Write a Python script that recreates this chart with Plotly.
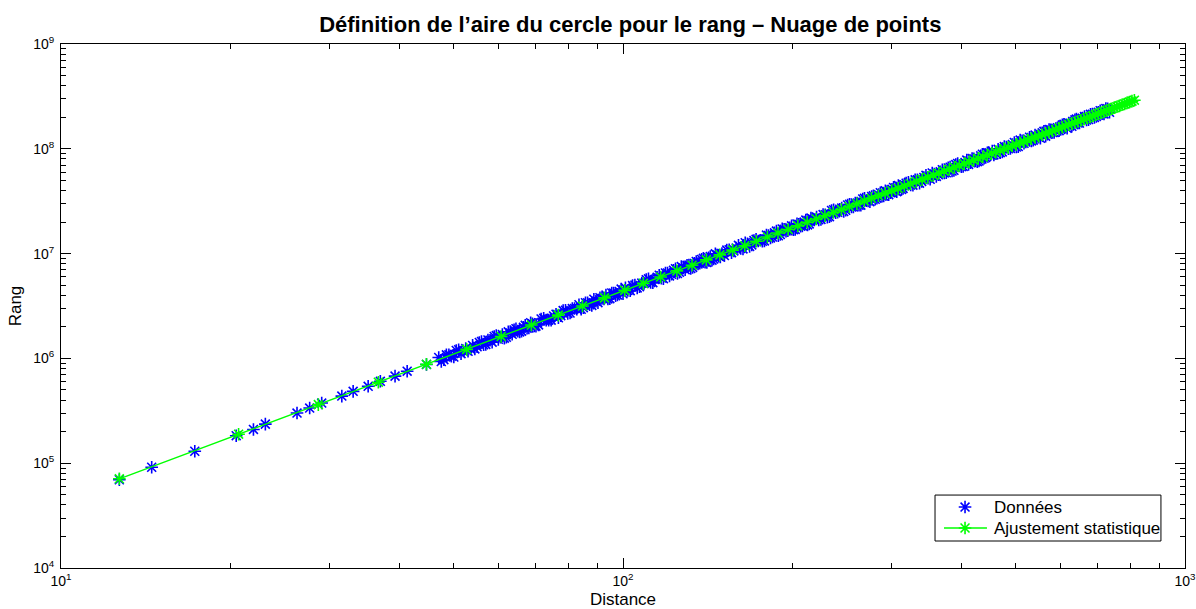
import plotly.graph_objects as go

# Measured points: distance and rank
distance = [
    12.7, 14.5, 17.3, 20.5, 22.0, 23.1, 26.3, 27.7, 29.1, 31.6, 33.1, 35.2, 37.0, 39.3, 41.3, 44.7,
    47, 48, 49, 50, 51, 52, 53, 54, 55, 56, 57, 58, 59, 60, 61, 62, 63, 64, 65, 66, 67, 68, 69, 70,
    71.5, 73, 74.5, 76, 77.5, 79, 80.5, 82, 83.5, 85, 86.5, 88, 89.5, 91, 92.5, 94, 95.5, 97, 98.5, 100,
    102, 104, 106, 108, 110, 112, 114, 116, 118, 120, 122, 124, 126, 128, 130, 132, 134, 136, 138, 140,
    142, 144, 146, 148, 150,
    153, 156, 159, 162, 165, 168, 171, 174, 177, 180, 183, 186, 189, 192, 195, 198, 201, 204, 207, 210,
    213, 216, 219,
    223, 227, 231, 235, 239, 243, 247, 251, 255, 259, 263, 267, 271, 275, 279, 283, 287, 291, 295, 299,
    303, 307, 311, 315, 319,
    325, 331, 337, 343, 349, 355, 361, 367, 373, 379, 385, 391, 397, 403, 409, 415, 421, 427, 433, 439,
    445, 451, 457,
    465, 473, 481, 489, 497, 505, 513, 521, 529, 537, 545, 553, 561, 569, 577, 585, 593, 601, 609, 617,
    625, 633, 641, 649, 657,
    668, 679, 690, 701, 712, 723, 734,
    47.5, 48.5, 49.5, 50.5, 51.5, 52.5, 53.5, 54.5, 55.5, 56.5, 57.5, 58.5, 59.5, 60.5, 61.5, 62.5,
    63.5, 64.5, 65.5, 66.5, 67.5, 68.5, 69.5,
    70.75, 72.25, 73.75, 75.25, 76.75, 78.25, 79.75, 81.25, 82.75, 84.25, 85.75, 87.25, 88.75, 90.25,
    91.75, 93.25, 94.75, 96.25, 97.75, 99.25,
    101, 103, 105, 107, 109, 111, 113, 115, 117, 119, 121, 123, 125, 127, 129, 131, 133, 135, 137, 139,
    141, 143, 145, 147, 149,
    151.5, 154.5, 157.5, 160.5, 163.5, 166.5, 169.5, 172.5, 175.5, 178.5, 181.5, 184.5, 187.5, 190.5,
    193.5, 196.5, 199.5, 202.5, 205.5, 208.5, 211.5, 214.5, 217.5,
    221, 225, 229, 233, 237, 241, 245, 249, 253, 257, 261, 265, 269, 273, 277, 281, 285, 289, 293, 297,
    301, 305, 309, 313, 317,
    322, 328, 334, 340, 346, 352, 358, 364, 370, 376, 382, 388, 394, 400, 406, 412, 418, 424, 430, 436,
    442, 448, 454, 461,
    469, 477, 485, 493, 501, 509, 517, 525, 533, 541, 549, 557, 565, 573, 581, 589, 597, 605, 613, 621,
    629, 637, 645, 653,
    662.5, 673.5, 684.5, 695.5, 706.5, 717.5, 728.5,
]
rang = [
    6.95e4, 9.15e4, 1.30e5, 1.83e5, 2.10e5, 2.36e5, 3.01e5, 3.36e5, 3.75e5, 4.37e5, 4.85e5, 5.42e5,
    6.05e5, 6.77e5, 7.55e5, 8.75e5,
    1.02e6, 9.73e5, 1.08e6, 1.03e6, 1.21e6, 1.18e6, 1.17e6, 1.33e6, 1.29e6, 1.45e6, 1.36e6, 1.49e6,
    1.62e6, 1.52e6, 1.69e6, 1.59e6, 1.75e6, 1.87e6, 1.82e6, 1.82e6, 2.07e6, 1.95e6, 2.14e6, 2.03e6,
    2.38e6, 2.32e6, 2.32e6, 2.64e6, 2.56e6, 2.88e6, 2.71e6, 2.99e6, 3.25e6, 3.05e6, 3.39e6, 3.20e6,
    3.52e6, 3.79e6, 3.69e6, 3.69e6, 4.21e6, 3.97e6, 4.35e6, 4.14e6,
    4.44e6, 4.95e6, 4.70e6, 5.23e6, 5.64e6, 5.30e6, 5.66e6, 6.22e6, 5.76e6, 6.53e6, 6.35e6, 7.17e6,
    6.64e6, 7.28e6, 7.73e6, 7.21e6, 8.06e6, 7.98e6, 8.80e6, 8.28e6, 9.14e6, 8.67e6, 9.94e6, 9.45e6,
    1.00e7,
    1.08e7, 1.02e7, 1.13e7, 1.12e7, 1.27e7, 1.17e7, 1.33e7, 1.32e7, 1.31e7, 1.50e7, 1.41e7, 1.58e7,
    1.48e7, 1.72e7, 1.64e7, 1.76e7, 1.69e7, 1.92e7, 1.83e7, 2.00e7, 1.88e7, 2.18e7, 2.09e7,
    2.10e7, 2.36e7, 2.23e7, 2.58e7, 2.46e7, 2.65e7, 2.52e7, 2.91e7, 2.78e7, 3.04e7, 2.89e7, 3.32e7,
    3.20e7, 3.13e7, 3.56e7, 3.38e7, 3.81e7, 3.54e7, 3.91e7, 3.82e7, 4.28e7, 3.90e7, 4.38e7, 4.19e7,
    4.70e7,
    4.51e7, 5.06e7, 4.70e7, 5.33e7, 5.25e7, 5.88e7, 5.45e7, 6.04e7, 5.88e7, 6.57e7, 6.13e7, 7.06e7,
    6.87e7, 6.79e7, 7.80e7, 7.35e7, 8.03e7, 7.54e7, 8.58e7, 8.14e7, 9.15e7, 8.77e7, 8.73e7,
    9.89e7, 9.35e7, 1.04e8, 1.01e8, 1.15e8, 1.05e8, 1.19e8, 1.16e8, 1.29e8, 1.21e8, 1.32e8, 1.26e8,
    1.47e8, 1.38e8, 1.52e8, 1.43e8, 1.59e8, 1.53e8, 1.71e8, 1.57e8, 1.75e8, 1.71e8, 1.92e8, 1.76e8,
    1.96e8,
    1.88e8, 2.13e8, 1.99e8, 2.23e8, 2.16e8, 2.42e8, 2.23e8,
    9.33e5, 1.08e6, 1.05e6, 1.19e6, 1.11e6, 1.24e6, 1.23e6, 1.23e6, 1.42e6, 1.35e6, 1.50e6, 1.43e6,
    1.65e6, 1.59e6, 1.56e6, 1.79e6, 1.70e6, 1.92e6, 1.79e6, 1.98e6, 1.94e6, 2.19e6, 2.04e6,
    2.09e6, 2.41e6, 2.32e6, 2.54e6, 2.44e6, 2.86e6, 2.69e6, 2.99e6, 2.95e6, 2.94e6, 3.40e6, 3.25e6,
    3.67e6, 3.40e6, 3.74e6, 4.02e6, 3.71e6, 4.20e6, 4.04e6, 4.59e6,
    4.71e6, 4.43e6, 5.00e6, 4.84e6, 5.18e6, 5.75e6, 5.28e6, 5.94e6, 5.84e6, 6.54e6, 6.12e6, 6.92e6,
    6.46e6, 7.52e6, 7.03e6, 7.78e6, 7.39e6, 8.42e6, 8.09e6, 9.01e6, 8.22e6, 9.36e6, 8.88e6, 9.70e6,
    9.28e6,
    9.59e6, 1.09e7, 1.06e7, 1.20e7, 1.11e7, 1.24e7, 1.21e7, 1.37e7, 1.34e7, 1.32e7, 1.49e7, 1.44e7,
    1.64e7, 1.52e7, 1.71e7, 1.65e7, 1.84e7, 1.70e7, 1.90e7, 1.84e7, 2.09e7, 1.92e7, 2.14e7,
    2.23e7, 2.12e7, 2.35e7, 2.25e7, 2.62e7, 2.48e7, 2.72e7, 2.59e7, 2.96e7, 2.79e7, 3.03e7, 2.90e7,
    3.37e7, 3.18e7, 3.51e7, 3.30e7, 3.65e7, 3.53e7, 3.97e7, 3.65e7, 4.11e7, 3.97e7, 4.45e7, 4.10e7,
    4.51e7,
    4.79e7, 4.50e7, 5.06e7, 4.88e7, 5.58e7, 5.12e7, 5.75e7, 5.65e7, 6.32e7, 5.91e7, 6.68e7, 6.23e7,
    7.24e7, 6.76e7, 7.40e7, 7.10e7, 8.07e7, 7.67e7, 7.65e7, 8.87e7, 8.25e7, 9.18e7, 9.52e7, 8.98e7,
    9.19e7, 1.05e8, 1.00e8, 1.10e8, 1.04e8, 1.21e8, 1.13e8, 1.24e8, 1.19e8, 1.35e8, 1.29e8, 1.42e8,
    1.32e8, 1.53e8, 1.43e8, 1.56e8, 1.49e8, 1.69e8, 1.62e8, 1.76e8, 1.64e8, 1.89e8, 1.76e8, 1.93e8,
    2.03e8, 1.90e8, 2.14e8, 2.04e8, 2.31e8, 2.15e8, 2.41e8,
]

# Fitted curve, sampled along the distance axis
fit_distance = [
    12.7, 20.7, 28.7, 36.7, 44.7, 52.7, 60.7, 68.7, 76.7, 84.7, 92.7, 100.7, 108.7, 116.7, 124.7,
    132.7, 140.7, 148.7, 156.7, 164.7, 172.7, 180.7, 188.7, 196.7, 204.7, 212.7, 220.7, 228.7, 236.7,
    244.7, 252.7, 260.7, 268.7, 276.7, 284.7, 292.7, 300.7, 308.7, 316.7, 324.7, 332.7, 340.7, 348.7,
    356.7, 364.7, 372.7, 380.7, 388.7, 396.7, 404.7, 412.7, 420.7, 428.7, 436.7, 444.7, 452.7, 460.7,
    468.7, 476.7, 484.7, 492.7, 500.7, 508.7, 516.7, 524.7, 532.7, 540.7, 548.7, 556.7, 564.7, 572.7,
    580.7, 588.7, 596.7, 604.7, 612.7, 620.7, 628.7, 636.7, 644.7, 652.7, 660.7, 668.7, 676.7, 684.7,
    692.7, 700.7, 708.7, 716.7, 724.7, 732.7, 740.7, 748.7, 756.7, 764.7, 772.7, 780.7, 788.7, 796.7,
    804.7, 812.7,
]
fit_rang = [
    7.10e4, 1.89e5, 3.62e5, 5.93e5, 8.79e5, 1.22e6, 1.62e6, 2.08e6, 2.59e6, 3.16e6, 3.78e6, 4.46e6,
    5.20e6, 5.99e6, 6.84e6, 7.75e6, 8.71e6, 9.73e6, 1.08e7, 1.19e7, 1.31e7, 1.44e7, 1.57e7, 1.70e7,
    1.84e7, 1.99e7, 2.14e7, 2.30e7, 2.47e7, 2.63e7, 2.81e7, 2.99e7, 3.18e7, 3.37e7, 3.57e7, 3.77e7,
    3.98e7, 4.19e7, 4.41e7, 4.64e7, 4.87e7, 5.11e7, 5.35e7, 5.60e7, 5.85e7, 6.11e7, 6.38e7, 6.65e7,
    6.92e7, 7.21e7, 7.49e7, 7.79e7, 8.09e7, 8.39e7, 8.70e7, 9.02e7, 9.34e7, 9.67e7, 1.00e8, 1.03e8,
    1.07e8, 1.10e8, 1.14e8, 1.17e8, 1.21e8, 1.25e8, 1.29e8, 1.32e8, 1.36e8, 1.40e8, 1.44e8, 1.48e8,
    1.52e8, 1.57e8, 1.61e8, 1.65e8, 1.70e8, 1.74e8, 1.78e8, 1.83e8, 1.87e8, 1.92e8, 1.97e8, 2.01e8,
    2.06e8, 2.11e8, 2.16e8, 2.21e8, 2.26e8, 2.31e8, 2.36e8, 2.41e8, 2.47e8, 2.52e8, 2.57e8, 2.63e8,
    2.68e8, 2.74e8, 2.79e8, 2.85e8, 2.91e8,
]

x_tickvals = [10, 100, 1000]
x_ticktext = ["10<sup>1</sup>", "10<sup>2</sup>", "10<sup>3</sup>"]
y_tickvals = [1e4, 1e5, 1e6, 1e7, 1e8, 1e9]
y_ticktext = ["10<sup>4</sup>", "10<sup>5</sup>", "10<sup>6</sup>",
              "10<sup>7</sup>", "10<sup>8</sup>", "10<sup>9</sup>"]

series_names = ["Données", "Ajustement statistique"]

FONT = "Liberation Sans, Arial, Helvetica, sans-serif"
BLUE = "#0000ff"
GREEN = "#00ff00"
MARKER_SIZE = 10.5
MARKER_LW = 1.6

fig = go.Figure()
fig.add_trace(go.Scatter(
    x=distance, y=rang, mode="markers", name=series_names[0], showlegend=False,
    marker=dict(symbol="asterisk-open", size=MARKER_SIZE, color=BLUE,
                line=dict(color=BLUE, width=MARKER_LW)),
))
fig.add_trace(go.Scatter(
    x=fit_distance, y=fit_rang, mode="lines+markers", name=series_names[1], showlegend=False,
    line=dict(color=GREEN, width=1.4),
    marker=dict(symbol="asterisk-open", size=MARKER_SIZE, color=GREEN,
                line=dict(color=GREEN, width=MARKER_LW)),
))

axis_common = dict(
    type="log", showline=True, linecolor="black", linewidth=1, mirror="allticks",
    ticks="inside", ticklen=10, tickwidth=1, tickcolor="black", showgrid=False, zeroline=False,
    tickmode="array", tickfont=dict(family=FONT, size=14, color="black"), automargin=False,
    ticklabeloverflow="allow",
    minor=dict(ticks="inside", ticklen=5, tickwidth=1, tickcolor="black", dtick="D1", showgrid=False),
)

fig.update_xaxes(**axis_common, range=[1, 3], tickvals=x_tickvals, ticktext=x_ticktext,
                 ticklabelstandoff=0,
                 title=dict(text="Distance", font=dict(family=FONT, size=17, color="black")))
fig.update_yaxes(**axis_common, range=[4, 9], tickvals=y_tickvals, ticktext=y_ticktext,
                 ticklabelstandoff=3,
                 title=dict(text="Rang", font=dict(family=FONT, size=17, color="black"), standoff=7))

# Legend box drawn in paper coordinates (lower right corner of the axes)
box_x0, box_x1, box_y0, box_y1 = 0.7776, 0.9786, 0.0515, 0.1392
key_x0, key_xc, key_x1, text_x = 0.7856, 0.8043, 0.8238, 0.8283
row_y = [0.1163, 0.0763]


def asterisk_path(r):
    rc, rs = r * 1.2, r * 0.85
    return (f"M0,{rc}V{-rc}M{rc},0H{-rc}M{rs},{rs}L{-rs},{-rs}M{rs},{-rs}L{-rs},{rs}")


key_shapes = [
    dict(type="rect", xref="paper", yref="paper", x0=box_x0, x1=box_x1, y0=box_y0, y1=box_y1,
         fillcolor="white", line=dict(color="black", width=1), layer="above"),
    dict(type="path", xref="paper", yref="paper", xsizemode="pixel", ysizemode="pixel",
         xanchor=key_xc, yanchor=row_y[0], path=asterisk_path(MARKER_SIZE / 2),
         line=dict(color=BLUE, width=MARKER_LW), layer="above"),
    dict(type="line", xref="paper", yref="paper", x0=key_x0, x1=key_x1, y0=row_y[1], y1=row_y[1],
         line=dict(color=GREEN, width=1.4), layer="above"),
    dict(type="path", xref="paper", yref="paper", xsizemode="pixel", ysizemode="pixel",
         xanchor=key_xc, yanchor=row_y[1], path=asterisk_path(MARKER_SIZE / 2),
         line=dict(color=GREEN, width=MARKER_LW), layer="above"),
]
key_labels = [
    dict(text=name, xref="paper", yref="paper", x=text_x, y=y, xanchor="left", yanchor="middle",
         showarrow=False, font=dict(family=FONT, size=17, color="black"))
    for name, y in zip(series_names, row_y)
]

fig.update_layout(
    width=1196, height=609,
    margin=dict(l=61, r=11, t=44, b=41),
    paper_bgcolor="white", plot_bgcolor="white",
    title=dict(text="<b>Définition de l’aire du cercle pour le rang – Nuage de points</b>",
               x=0.527, xanchor="center", y=0.9605, yanchor="middle",
               font=dict(family=FONT, size=22, color="black")),
    shapes=key_shapes,
    annotations=key_labels,
    showlegend=False,
)

fig.write_html("out.html", post_script="document.body.style.margin='0';document.body.style.overflow='hidden';")
